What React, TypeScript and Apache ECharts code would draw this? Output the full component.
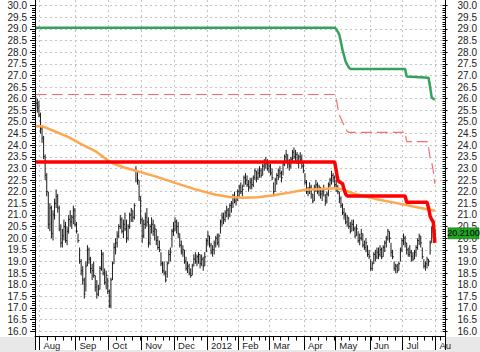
import React, { useEffect, useRef } from 'react';
import * as echarts from 'echarts';

// ---------- categories (trading days) ----------
const HOLIDAYS = ['2011-09-05', '2011-11-24', '2011-12-26', '2012-01-02', '2012-01-16', '2012-02-20', '2012-04-06', '2012-05-28', '2012-07-04'];
const FIRST_DAY = '2011-07-27';
const LAST_AXIS_DAY = '2012-08-08';

function buildTradingDays(start: string, end: string): string[] {
  const out: string[] = [];
  const d = new Date(start + 'T00:00:00Z');
  const e = new Date(end + 'T00:00:00Z');
  while (d <= e) {
    const wd = d.getUTCDay();
    const s = d.toISOString().slice(0, 10);
    if (wd !== 0 && wd !== 6 && HOLIDAYS.indexOf(s) < 0) out.push(s);
    d.setUTCDate(d.getUTCDate() + 1);
  }
  return out;
}
const dates: string[] = buildTradingDays(FIRST_DAY, LAST_AXIS_DAY);

const MONTH_LABELS: Record<string, string> = {
  '2011-08': 'Aug', '2011-09': 'Sep', '2011-10': 'Oct', '2011-11': 'Nov', '2011-12': 'Dec',
  '2012-01': '2012', '2012-02': 'Feb', '2012-03': 'Mar', '2012-04': 'Apr', '2012-05': 'May',
  '2012-06': 'Jun', '2012-07': 'Jul', '2012-08': 'Au',
};

const yTicks = { min: 16, max: 30, step: 0.5 };

// ---------- daily price bars (from 2011-07-27) ----------
const highs = [
  26.1, 26.0, 25.9, 25.4, 24.8, 24.4, 23.6, 22.8, 22.0, 21.5,
  21.4, 21.2, 21.7, 22.1, 21.9, 21.4, 20.6, 20.4, 20.8, 20.7,
  20.5, 21.0, 21.2, 21.0, 21.4, 21.3, 20.7, 20.2, 19.6, 19.1,
  18.8, 18.3, 19.0, 19.7, 19.6, 19.2, 18.9, 19.0, 18.4, 18.2,
  18.0, 18.8, 19.5, 19.4, 18.7, 18.6, 18.3, 17.8, 18.3, 19.0,
  19.8, 20.0, 20.3, 20.6, 21.0, 20.9, 20.8, 21.1, 20.8, 20.6,
  21.1, 21.3, 21.2, 21.5, 23.1, 22.9, 22.5, 21.8, 20.9, 20.8,
  21.1, 21.3, 20.9, 20.6, 20.9, 20.8, 20.6, 20.4, 20.1, 19.9,
  19.4, 19.0, 19.0, 18.6, 19.0, 19.5, 19.6, 20.4, 20.7, 20.9,
  20.8, 20.7, 20.2, 19.9, 19.7, 19.5, 19.2, 19.0, 18.9, 18.7,
  18.9, 19.3, 19.4, 19.3, 19.4, 19.3, 19.3, 19.2, 19.4, 20.0,
  20.3, 20.1, 19.8, 19.7, 19.9, 20.1, 20.2, 20.2, 20.8, 21.1,
  21.1, 21.2, 21.4, 21.3, 21.5, 21.6, 21.9, 22.0, 21.8, 22.1,
  22.3, 22.4, 22.3, 22.7, 22.8, 22.7, 22.5, 22.6, 22.6, 22.7,
  23.0, 22.9, 23.0, 23.1, 23.0, 23.2, 23.4, 23.5, 23.4, 23.3,
  23.2, 23.0, 22.4, 22.6, 22.8, 23.0, 23.1, 22.9, 23.3, 23.6,
  23.8, 23.6, 23.4, 23.5, 23.8, 23.9, 23.8, 23.7, 23.6, 23.7,
  23.6, 23.3, 22.8, 22.5, 22.2, 22.4, 22.3, 21.9, 22.3, 22.5,
  22.4, 22.3, 22.2, 22.1, 22.3, 21.9, 22.0, 22.4, 22.6, 22.9,
  22.8, 22.7, 22.5, 22.3, 22.0, 21.8, 21.5, 21.3, 21.1, 21.0,
  20.9, 20.7, 20.8, 20.8, 20.5, 20.6, 20.3, 20.2, 20.4, 20.2,
  19.9, 20.0, 19.7, 19.5, 19.1, 19.0, 19.4, 19.5, 19.6, 19.6,
  19.7, 19.6, 19.7, 19.9, 20.1, 20.4, 20.3, 19.8, 19.5, 19.0,
  18.9, 18.9, 19.0, 19.6, 20.0, 20.2, 20.1, 19.8, 19.6, 19.7,
  19.5, 19.4, 19.5, 19.7, 20.0, 20.2, 20.1, 19.6, 19.1, 19.0,
  19.2, 19.1, 19.9, 20.5, 20.4, 20.4,
];
const lows = [
  25.6, 25.4, 25.2, 24.5, 24.1, 23.4, 22.5, 21.8, 20.4, 20.3,
  20.0, 19.9, 20.8, 21.3, 21.1, 20.3, 19.6, 19.6, 19.9, 19.8,
  19.7, 20.2, 20.5, 20.4, 20.6, 20.5, 20.2, 19.8, 18.9, 18.4,
  18.0, 17.4, 17.7, 18.8, 18.9, 18.5, 18.2, 18.3, 17.7, 17.4,
  17.5, 17.8, 18.6, 18.4, 18.0, 17.8, 17.6, 17.0, 17.0, 18.2,
  18.9, 19.3, 19.6, 20.0, 20.4, 20.2, 20.0, 20.3, 19.8, 19.9,
  20.4, 20.7, 20.7, 20.8, 22.4, 22.3, 21.6, 20.6, 19.8, 20.0,
  20.4, 20.5, 19.6, 19.7, 20.2, 20.1, 19.9, 19.7, 19.5, 19.4,
  18.8, 18.5, 18.4, 18.1, 18.3, 18.9, 19.0, 19.6, 20.1, 20.3,
  20.2, 20.0, 19.6, 19.3, 19.2, 18.9, 18.6, 18.5, 18.4, 18.3,
  18.4, 18.8, 18.9, 18.8, 18.9, 18.7, 18.8, 18.6, 18.8, 19.4,
  19.7, 19.6, 19.3, 19.2, 19.3, 19.6, 19.7, 19.6, 20.2, 20.5,
  20.6, 20.7, 20.9, 20.8, 20.9, 21.1, 21.3, 21.5, 21.4, 21.6,
  21.8, 21.9, 21.8, 22.2, 22.3, 22.2, 22.0, 22.1, 22.1, 22.2,
  22.5, 22.4, 22.5, 22.6, 22.6, 22.7, 22.9, 23.0, 22.9, 22.8,
  22.7, 22.5, 21.8, 22.0, 22.3, 22.5, 22.6, 22.4, 22.7, 23.1,
  23.3, 23.0, 22.9, 23.0, 23.3, 23.4, 23.3, 23.2, 23.0, 23.2,
  23.0, 22.8, 22.3, 21.9, 21.8, 21.9, 21.7, 21.5, 21.6, 22.0,
  21.9, 21.8, 21.7, 21.6, 21.8, 21.4, 21.5, 21.8, 22.2, 22.3,
  22.4, 22.2, 22.0, 21.9, 21.5, 21.3, 21.0, 20.8, 20.6, 20.5,
  20.4, 20.2, 20.3, 20.3, 20.0, 20.1, 19.8, 19.7, 19.9, 19.6,
  19.5, 19.4, 19.2, 19.1, 18.6, 18.6, 18.9, 19.0, 19.1, 19.1,
  19.2, 19.1, 19.2, 19.4, 19.6, 19.9, 19.8, 19.2, 19.1, 18.6,
  18.5, 18.5, 18.6, 19.0, 19.4, 19.7, 19.6, 19.3, 19.2, 19.2,
  19.0, 19.0, 19.1, 19.2, 19.5, 19.7, 19.6, 19.1, 18.7, 18.6,
  18.7, 18.8, 19.3, 19.8, 20.0, 20.0,
];
const closes = [
  25.8, 25.6, 25.3, 24.7, 24.3, 23.5, 22.7, 22.0, 20.6, 21.3,
  20.2, 21.0, 21.5, 21.8, 21.3, 20.4, 19.8, 20.1, 20.5, 19.9,
  20.3, 20.8, 20.7, 20.9, 21.2, 20.6, 20.3, 19.9, 19.0, 18.6,
  18.2, 17.6, 18.8, 19.5, 19.1, 18.7, 18.6, 18.4, 17.9, 17.6,
  17.8, 18.7, 19.3, 18.5, 18.1, 18.4, 17.7, 17.1, 18.2, 18.9,
  19.6, 19.8, 20.1, 20.5, 20.8, 20.3, 20.6, 20.4, 20.0, 20.5,
  21.0, 21.2, 20.9, 21.4, 22.9, 22.5, 21.8, 20.8, 20.1, 20.6,
  20.9, 20.7, 19.8, 20.5, 20.6, 20.3, 20.4, 19.9, 19.6, 19.5,
  18.9, 18.6, 18.5, 18.2, 18.9, 19.3, 19.4, 20.3, 20.4, 20.7,
  20.5, 20.2, 19.7, 19.4, 19.5, 19.0, 18.7, 18.8, 18.5, 18.4,
  18.8, 19.1, 19.0, 19.2, 19.3, 18.9, 19.1, 18.8, 19.2, 19.9,
  20.1, 19.7, 19.4, 19.5, 19.8, 20.0, 19.8, 20.1, 20.7, 20.9,
  20.8, 21.1, 21.2, 21.0, 21.4, 21.5, 21.8, 21.6, 21.7, 22.0,
  22.2, 22.0, 22.1, 22.6, 22.5, 22.3, 22.2, 22.4, 22.3, 22.6,
  22.9, 22.6, 22.8, 22.9, 22.7, 23.1, 23.3, 23.2, 23.0, 23.1,
  22.8, 22.6, 22.0, 22.5, 22.7, 22.9, 22.8, 22.6, 23.2, 23.5,
  23.6, 23.2, 23.1, 23.4, 23.7, 23.5, 23.6, 23.3, 23.5, 23.4,
  23.1, 22.9, 22.4, 22.0, 22.1, 22.2, 21.9, 21.6, 22.2, 22.3,
  22.0, 22.2, 21.9, 22.0, 22.1, 21.6, 21.9, 22.3, 22.5, 22.7,
  22.6, 22.3, 22.2, 22.0, 21.7, 21.4, 21.1, 21.0, 20.7, 20.9,
  20.5, 20.3, 20.6, 20.4, 20.1, 20.4, 19.9, 20.0, 20.2, 19.7,
  19.6, 19.8, 19.3, 19.2, 18.7, 18.9, 19.3, 19.2, 19.4, 19.3,
  19.5, 19.2, 19.6, 19.8, 20.0, 20.3, 20.0, 19.4, 19.2, 18.7,
  18.8, 18.6, 18.9, 19.5, 19.9, 20.0, 19.8, 19.5, 19.3, 19.4,
  19.2, 19.1, 19.4, 19.6, 19.9, 20.1, 19.8, 19.2, 18.8, 18.9,
  19.1, 19.0, 19.8, 20.4, 20.2, 20.21,
];

// ---------- overlay lines (change points) ----------
const greenDates = ['2011-07-27', '2012-04-30', '2012-05-01', '2012-05-03', '2012-05-07', '2012-05-09', '2012-05-11', '2012-05-14', '2012-07-03', '2012-07-05', '2012-07-25', '2012-07-26', '2012-07-27', '2012-07-30', '2012-07-31'];
const greenValues = [29.05, 29.05, 29.0, 28.75, 28.1, 27.6, 27.35, 27.28, 27.28, 26.95, 26.9, 26.5, 26.05, 26.0, 25.95];

const dashDates = ['2011-07-27', '2012-04-30', '2012-05-01', '2012-05-02', '2012-05-03', '2012-05-04', '2012-05-07', '2012-05-08', '2012-05-09', '2012-05-10', '2012-05-11', '2012-07-03', '2012-07-05', '2012-07-24', '2012-07-25', '2012-07-26', '2012-07-27', '2012-07-30', '2012-07-31'];
const dashValues = [26.18, 26.18, 26.0, 25.6, 25.3, 25.15, 25.0, 24.85, 24.7, 24.6, 24.55, 24.55, 24.15, 24.15, 23.9, 23.45, 23.25, 22.9, 22.35];

const redDates = ['2011-07-27', '2012-04-30', '2012-05-01', '2012-05-02', '2012-05-03', '2012-05-04', '2012-05-07', '2012-05-08', '2012-05-09', '2012-05-10', '2012-07-03', '2012-07-05', '2012-07-24', '2012-07-25', '2012-07-26', '2012-07-27', '2012-07-30', '2012-07-31'];
const redValues = [23.28, 23.28, 22.9, 22.5, 22.42, 22.38, 22.35, 22.1, 21.9, 21.82, 21.82, 21.55, 21.55, 21.3, 20.95, 20.8, 20.7, 19.8];

const maDates = ['2011-07-27', '2011-08-02', '2011-08-12', '2011-08-25', '2011-09-07', '2011-09-20', '2011-09-30', '2011-10-06', '2011-10-14', '2011-10-27', '2011-11-14', '2011-12-01', '2011-12-20', '2012-01-10', '2012-01-24', '2012-02-03', '2012-02-17', '2012-03-05', '2012-03-19', '2012-04-02', '2012-04-17', '2012-05-01', '2012-05-07', '2012-05-17', '2012-06-06', '2012-06-25', '2012-07-12', '2012-07-31'];
const maValues = [24.82, 24.82, 24.6, 24.35, 24.05, 23.75, 23.35, 23.2, 23.05, 22.88, 22.65, 22.38, 22.1, 21.87, 21.77, 21.74, 21.76, 21.85, 21.96, 22.08, 22.12, 22.15, 22.1, 21.9, 21.69, 21.52, 21.35, 21.18];

const lastCloseLabel = '20.2100';

// ---------- helpers ----------
const FONT = 'Liberation Sans, Arial, sans-serif';
const INK = '#222';
const ym = (s: string) => s.slice(0, 7);
const isMonthStart = (i: number) => i > 0 && ym(dates[i]) !== ym(dates[i - 1]);
const wday = (s: string) => new Date(s + 'T00:00:00Z').getUTCDay();
const isWeekStart = (i: number) => i > 0 && wday(dates[i]) <= wday(dates[i - 1]);
const pairs = (ds: string[], vs: number[]) => ds.map((d, k) => [dates.indexOf(d), vs[k]]);

const PLOT_LEFT = 35;
const PLOT_RIGHT = 35;
const PX_PER_UNIT = 23.25;
const TOP_30 = 5.7;
const PLOT_BOTTOM = 336.5;
const Y16 = TOP_30 + (yTicks.max - yTicks.min) * PX_PER_UNIT;
const yFullMax = yTicks.max + TOP_30 / PX_PER_UNIT;
const yFullMin = yTicks.min - (PLOT_BOTTOM - Y16) / PX_PER_UNIT;

export default function App() {
  const ref = useRef<HTMLDivElement>(null);
  useEffect(() => {
    if (!ref.current) return;
    const chart = echarts.init(ref.current, undefined, { renderer: 'svg' });
    const grid = [
      { left: PLOT_LEFT, right: PLOT_RIGHT, top: 0, height: PLOT_BOTTOM },
      { left: PLOT_LEFT, right: PLOT_RIGHT, top: TOP_30, height: Y16 - TOP_30 },
      { left: PLOT_LEFT, right: PLOT_RIGHT, top: 0, height: PLOT_BOTTOM },
    ];
    const option: any = {
      animation: false,
      backgroundColor: '#ffffff',
      textStyle: { fontFamily: FONT },
      grid,
      xAxis: [
        {
          gridIndex: 0, type: 'category', data: dates, boundaryGap: true, position: 'bottom',
          axisLine: { show: true, lineStyle: { color: '#000', width: 1 } },
          axisTick: { show: true, interval: (i: number) => isMonthStart(i), length: 13.5, lineStyle: { color: '#000', width: 1 } },
          axisLabel: {
            show: true, interval: (i: number) => isMonthStart(i),
            formatter: (v: string) => MONTH_LABELS[ym(v)] || '',
            align: 'left', padding: [0, 0, 0, 3], margin: 4, fontSize: 9.5, color: INK, fontFamily: FONT,
          },
          splitLine: { show: true, interval: (i: number) => isMonthStart(i), lineStyle: { color: '#c4c4c4', type: [2, 3], width: 1 } },
        },
        { gridIndex: 1, type: 'value', show: false, min: 0, max: 1 },
        {
          gridIndex: 2, type: 'category', data: dates, boundaryGap: true, position: 'bottom',
          axisLine: { show: false },
          axisTick: { show: true, interval: (i: number) => isWeekStart(i) && !isMonthStart(i), length: 4, lineStyle: { color: '#000', width: 1 } },
          axisLabel: { show: false },
          splitLine: { show: false },
        },
      ],
      yAxis: [
        {
          gridIndex: 0, type: 'value', min: yFullMin, max: yFullMax, position: 'left',
          axisLine: { show: true, lineStyle: { color: '#000', width: 1 } },
          axisTick: { show: false }, axisLabel: { show: false }, splitLine: { show: false },
        },
        {
          gridIndex: 0, type: 'value', min: yFullMin, max: yFullMax, position: 'right',
          axisLine: { show: true, lineStyle: { color: '#000', width: 1 } },
          axisTick: { show: false }, axisLabel: { show: false }, splitLine: { show: false },
        },
        {
          gridIndex: 1, type: 'value', min: yTicks.min, max: yTicks.max, interval: yTicks.step, position: 'left',
          axisLine: { show: false },
          axisTick: { show: true, length: 5, lineStyle: { color: '#000', width: 1 } },
          minorTick: { show: true, splitNumber: 5, length: 3, lineStyle: { color: '#000', width: 1 } },
          axisLabel: { show: true, formatter: (v: number) => v.toFixed(1), fontSize: 10, color: INK, margin: 8, fontFamily: FONT },
          splitLine: { show: true, lineStyle: { color: '#c4c4c4', type: [2, 3], width: 1 } },
        },
        {
          gridIndex: 1, type: 'value', min: yTicks.min, max: yTicks.max, interval: yTicks.step, position: 'right',
          axisLine: { show: false },
          axisTick: { show: true, length: 5, lineStyle: { color: '#000', width: 1 } },
          minorTick: { show: true, splitNumber: 5, length: 3, lineStyle: { color: '#000', width: 1 } },
          axisLabel: { show: true, formatter: (v: number) => v.toFixed(1), fontSize: 10, color: INK, margin: 15, fontFamily: FONT },
          splitLine: { show: false },
        },
        { gridIndex: 2, type: 'value', show: false, min: 0, max: 1 },
      ],
      series: [
        {
          type: 'custom', xAxisIndex: 0, yAxisIndex: 0, z: 2,
          data: closes.map((c, i) => [i, lows[i], highs[i], c]),
          encode: { x: 0, y: [1, 2, 3] },
          renderItem: (_p: any, api: any) => {
            const x = api.value(0);
            const lo = api.coord([x, api.value(1)]);
            const hi = api.coord([x, api.value(2)]);
            const cl = api.coord([x, api.value(3)]);
            const st = { stroke: '#1c1c1c', lineWidth: 1 };
            return {
              type: 'group',
              children: [
                { type: 'line', shape: { x1: lo[0], y1: lo[1], x2: hi[0], y2: hi[1] }, style: st },
                { type: 'line', shape: { x1: cl[0], y1: cl[1], x2: cl[0] + 1.3, y2: cl[1] }, style: st },
              ],
            };
          },
        },
        {
          type: 'line', xAxisIndex: 0, yAxisIndex: 0, z: 3, data: pairs(maDates, maValues),
          showSymbol: false, smooth: false, lineStyle: { color: '#ffa64f', width: 2.5 },
        },
        {
          type: 'line', xAxisIndex: 0, yAxisIndex: 0, z: 4, data: pairs(dashDates, dashValues),
          showSymbol: false, lineStyle: { color: '#ff6b6b', width: 1.2, type: [11, 5] },
        },
        {
          type: 'line', xAxisIndex: 0, yAxisIndex: 0, z: 5, data: pairs(redDates, redValues),
          showSymbol: false, lineStyle: { color: '#ff0000', width: 3.5 },
        },
        {
          type: 'line', xAxisIndex: 0, yAxisIndex: 0, z: 6, data: pairs(greenDates, greenValues),
          showSymbol: false, lineStyle: { color: '#33a35c', width: 2.5 },
        },
      ],
    };
    chart.setOption(option);

    const lastY = chart.convertToPixel({ yAxisIndex: 0 } as any, closes[closes.length - 1]) as number;
    const rightEdge = 480 - PLOT_RIGHT;
    chart.setOption({
      graphic: [
        { type: 'rect', id: 'bgStrip', z: -100, silent: true, shape: { x: 0, y: PLOT_BOTTOM + 0.5, width: 480, height: 352 - PLOT_BOTTOM }, style: { fill: '#e8e8e8' } },
        { type: 'rect', id: 'labelStrip', z: -99, silent: true, shape: { x: PLOT_LEFT, y: PLOT_BOTTOM + 0.5, width: 480 - PLOT_LEFT - PLOT_RIGHT, height: 13 }, style: { fill: '#ffffff' } },
        { type: 'line', id: 'leftExt', z: 10, silent: true, shape: { x1: PLOT_LEFT + 0.5, y1: PLOT_BOTTOM, x2: PLOT_LEFT + 0.5, y2: PLOT_BOTTOM + 13.5 }, style: { stroke: '#000', lineWidth: 1 } },
        { type: 'rect', id: 'priceBox', z: 20, silent: true, shape: { x: rightEdge + 3, y: lastY - 5.5, width: 31, height: 11 }, style: { fill: '#1fa51f', stroke: '#0a5a0a', lineWidth: 0.5 } },
        {
          type: 'text', id: 'priceText', z: 21, silent: true, x: rightEdge + 18.5, y: lastY,
          style: { text: lastCloseLabel, fill: '#000', fontSize: 9, fontFamily: FONT, align: 'center', verticalAlign: 'middle', textAlign: 'center', textVerticalAlign: 'middle' },
        },
      ],
    });
    return () => chart.dispose();
  }, []);
  return <div ref={ref} style={{ position: 'fixed', left: 0, top: 0, width: 480, height: 352, background: '#fff' }} />;
}
